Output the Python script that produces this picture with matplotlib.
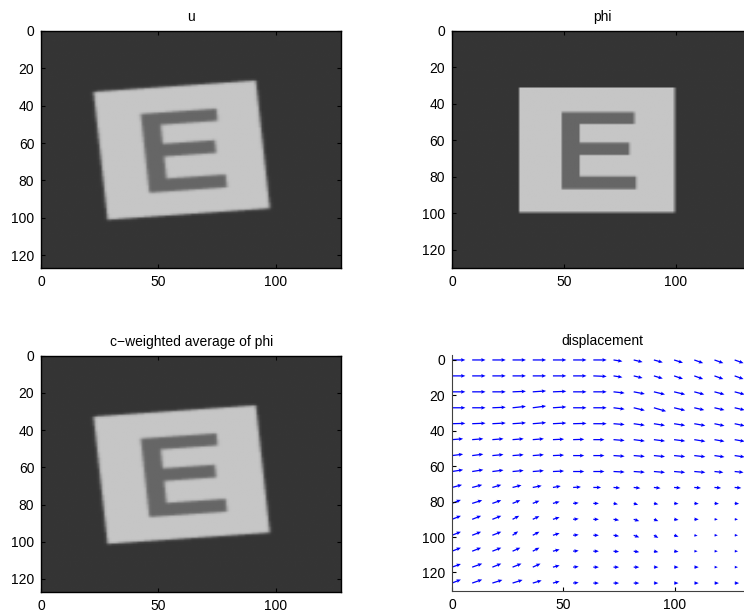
import numpy as np
import matplotlib
matplotlib.use("Agg")
import matplotlib.pyplot as plt

plt.rcParams['font.family'] = ['Liberation Sans', 'DejaVu Sans']
plt.rcParams['font.size'] = 10

# ---- image description (gray levels 0..1) ----
bg_level = 0.208
rect_level = 0.776
letter_level = 0.40

# phi: axis aligned rectangle and letter E (x0, x1, y0, y1)
phi_rect = [30.0, 99.5, 31.0, 99.5]
e_stem = [49.0, 57.0, 44.5, 86.7]
e_top = [49.0, 81.4, 44.5, 51.0]
e_mid = [49.0, 79.3, 61.2, 68.0]
e_bot = [49.0, 82.3, 79.8, 86.7]

phi_size = [134, 130]          # width, height
u_size = [128, 127]

# u: phi rotated (degrees, counter-clockwise on screen) and moved
u_angle = 5.0
phi_center = [64.75, 65.25]
u_center = [60.05, 64.1]

# ---- displacement field (15 x 15 grid) ----
grid_x = np.linspace(0, 127, 15)
grid_y = np.linspace(0, 126, 15)
U = np.array([
    [6, 6, 6, 6, 6, 6, 6, 6, 4, 4, 4, 4, 4, 4, 4],
    [6, 6, 6, 6, 6, 6, 6, 6, 4, 4, 4, 4, 4, 4, 4],
    [6, 6, 6, 6, 6, 6, 6, 6, 5, 5, 5, 5, 4.5, 4.5, 4.5],
    [6, 6, 6, 6, 6, 6, 6, 6, 5, 5, 5.5, 5, 4.5, 4.5, 4.5],
    [6, 6, 6, 6, 6, 6, 6, 6, 5, 5, 5, 5, 5, 4.5, 4.5],
    [5, 5, 5, 5, 5, 5, 5, 5, 5, 5, 5, 5, 5, 4.5, 4.5],
    [5, 5, 5, 5, 5, 5, 5, 5, 5, 5, 5, 5, 5, 4.5, 4.5],
    [5, 5, 5, 5, 5, 5, 5, 5, 5, 5, 5, 5, 5, 4, 4],
    [4.5, 4.5, 4, 4, 4, 3.5, 3.5, 3.5, 3, 3, 3, 3, 3, 3, 3],
    [4, 4.5, 4, 3.5, 3, 3, 2.5, 2.5, 2, 2, 2, 2, 2, 2, 2],
    [4, 4, 4, 3, 3, 3, 2.5, 2.5, 2.5, 2.5, 2, 2, 2, 1.5, 1.5],
    [4, 4, 4, 2.5, 3, 3, 2.5, 2.5, 2.5, 2.5, 2, 2, 1.5, 1.5, 1.5],
    [4, 4, 4, 3.5, 3, 3, 2.5, 2.5, 2.5, 2.5, 2, 2, 1.5, 1.5, 1.5],
    [4, 4.5, 4, 4, 3.5, 3, 2.5, 2.5, 2.5, 2.5, 2, 2, 2, 1.5, 1.5],
    [4, 4.5, 4.5, 4.5, 4, 3, 2.5, 2.5, 2.5, 2.5, 2, 2, 2, 2, 2],
])
V = np.array([
    [0, 0, 0, 0, 0, 0, 0, 0, 0.8, 1.2, 1.4, 1.6, 1.8, 1.8, 1.8],
    [0, 0, 0, 0, 0, 0, 0, 0.3, 0.8, 1.2, 1.5, 1.7, 1.8, 1.8, 1.8],
    [0, 0, 0, -0.3, -0.5, -0.3, 0, 0, 0.7, 1.2, 1.5, 1.5, 1.5, 1.5, 1.5],
    [0, 0, -0.3, -0.8, -1, -0.5, 0, 0, 0.8, 1.5, 2, 1.5, 1.3, 1.3, 1.3],
    [-0.2, -0.3, -0.4, -0.5, -0.6, -0.4, -0.2, 0, 0.5, 0.9, 1, 1, 1.1, 1.2, 1.2],
    [-0.5, -0.5, -0.5, -0.5, -0.5, -0.3, -0.2, 0, 0.5, 0.8, 0.8, 0.8, 1, 1, 1],
    [-0.8, -0.8, -0.6, -0.5, -0.5, -0.3, 0, 0, 0.4, 0.5, 0.6, 0.6, 0.7, 0.8, 0.8],
    [-1, -1, -0.8, -0.6, -0.5, -0.3, 0, 0, 0.3, 0.4, 0.5, 0.5, 0.5, 0.5, 0.5],
    [-1.5, -1.5, -1.5, -1.3, -1, -0.8, -0.3, 0, 0.3, 0.4, 0.4, 0.3, 0.3, 0.3, 0.3],
    [-2, -1.8, -1.8, -1.8, -1.5, -1, -0.3, 0, 0.5, 0.8, 0.5, 0.2, 0.2, 0.2, 0.2],
    [-2, -2, -2, -2, -1.8, -1.2, -0.3, 0, 0.5, 1, 1, 0.3, 0, 0, 0],
    [-2, -2, -2, -2.2, -2, -1.2, -0.3, 0, 0.5, 1.2, 1.5, 0.8, 0.3, 0, 0],
    [-2, -2, -2, -2, -2, -1, -0.3, 0, 0.3, 0.5, 0.5, 0.3, 0, 0, 0],
    [-1.8, -2, -2, -2, -2, -1, -0.3, 0, 0, 0, 0, 0, 0, 0, 0],
    [-2, -2, -1.8, -1.8, -1.5, -1, -0.3, 0, 0, 0, 0, 0, 0, 0, 0],
])

titles = ["u", "phi", "c\u2212weighted average of phi", "displacement"]


def box_mask(x, y, b):
    return (x >= b[0]) & (x <= b[1]) & (y >= b[2]) & (y <= b[3])


def phi_value(x, y):
    img = np.full(x.shape, bg_level)
    img[box_mask(x, y, phi_rect)] = rect_level
    letter = (box_mask(x, y, e_stem) | box_mask(x, y, e_top)
              | box_mask(x, y, e_mid) | box_mask(x, y, e_bot))
    img[letter] = letter_level
    return img


def render(w, h, fn, ss=4):
    xs = (np.arange(w * ss) + 0.5) / ss
    ys = (np.arange(h * ss) + 0.5) / ss
    X, Y = np.meshgrid(xs, ys)
    big = fn(X, Y)
    return big.reshape(h, ss, w, ss).mean(axis=(1, 3))


def u_value(x, y):
    t = np.deg2rad(u_angle)
    dx = x - u_center[0]
    dy = y - u_center[1]
    # inverse rotation
    px = np.cos(t) * dx - np.sin(t) * dy + phi_center[0]
    py = np.sin(t) * dx + np.cos(t) * dy + phi_center[1]
    return phi_value(px, py)


def smooth(img, k=1):
    out = img.copy()
    for _ in range(k):
        p = np.pad(out, 1, mode='edge')
        out = (p[:-2, 1:-1] + p[2:, 1:-1] + p[1:-1, :-2] + p[1:-1, 2:] + 4 * p[1:-1, 1:-1]) / 8.0
    return out


phi_img = render(phi_size[0], phi_size[1], phi_value)
u_img = smooth(render(u_size[0], u_size[1], u_value), 1)
avg_img = smooth(render(u_size[0], u_size[1], u_value), 1)

fig = plt.figure(figsize=(7.44, 6.16), dpi=100)
W, H = 744.0, 616.0


def add_ax(left, top, right, bottom):
    return fig.add_axes([left / W, 1 - bottom / H, (right - left) / W, (bottom - top) / H])


ax1 = add_ax(41.3, 31.0, 341.3, 268.3)
ax2 = add_ax(452.0, 31.0, 752.0, 268.0)
ax3 = add_ax(41.3, 355.7, 341.3, 592.0)
ax4 = add_ax(452.0, 355.0, 752.0, 590.7)


def style_image_axes(ax, img, w, h, title):
    ax.imshow(img, cmap='gray', vmin=0, vmax=1, extent=[0, w, h, 0],
              aspect='auto', interpolation='bilinear')
    ax.set_xlim(0, w)
    ax.set_ylim(h, 0)
    ax.set_xticks([0, 50, 100])
    ax.set_yticks([0, 20, 40, 60, 80, 100, 120])
    ax.tick_params(direction='in', top=True, right=True, length=3, width=0.8,
                   labelsize=10, pad=5)
    for s in ax.spines.values():
        s.set_linewidth(1.0)
    ax.set_title(title, fontsize=10, pad=7)


style_image_axes(ax1, u_img, u_size[0], u_size[1], titles[0])
style_image_axes(ax2, phi_img, phi_size[0], phi_size[1], titles[1])
style_image_axes(ax3, avg_img, u_size[0], u_size[1], titles[2])

GX, GY = np.meshgrid(grid_x, grid_y)
ax4.quiver(GX, GY, U, V, angles='xy', scale_units='xy', scale=1, color='blue',
           width=0.0042, headwidth=3.0, headlength=3.5, headaxislength=3.0)
ax4.set_xlim(0, 134.8)
ax4.set_ylim(130.3, -2.8)
ax4.set_xticks([0, 50, 100])
ax4.set_yticks([0, 20, 40, 60, 80, 100, 120])
ax4.spines['top'].set_visible(False)
ax4.spines['right'].set_visible(False)
ax4.spines['left'].set_color('#404040')
ax4.spines['bottom'].set_color('#404040')
ax4.tick_params(direction='in', length=3, width=0.8, labelsize=10, pad=5)
ax4.set_title(titles[3], fontsize=10, pad=7)

fig.savefig("out.png", dpi=100)
